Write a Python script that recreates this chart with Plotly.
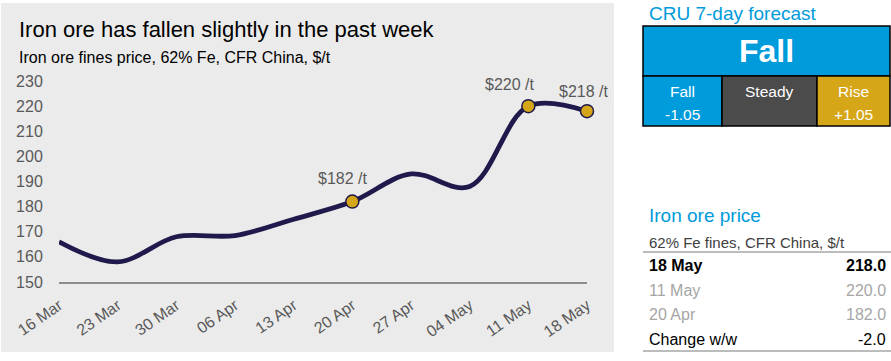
import plotly.graph_objects as go

# ---- data ----
weeks = ["16 Mar", "23 Mar", "30 Mar", "06 Apr", "13 Apr", "20 Apr", "27 Apr", "04 May", "11 May", "18 May"]
price = [166, 158, 168, 168.5, 175, 182, 193, 188, 220, 218]
marked_weeks = ["20 Apr", "11 May", "18 May"]
marked_price = [182, 220, 218]
marked_labels = ["$182 /t", "$220 /t", "$218 /t"]
y_ticks = [150, 160, 170, 180, 190, 200, 210, 220, 230]

forecast_title = "CRU 7-day forecast"
forecast_call = "Fall"
forecast_cells = [("Fall", "-1.05"), ("Steady", ""), ("Rise", "+1.05")]

table_title = "Iron ore price"
table_sub = "62% Fe fines, CFR China, $/t"
table_rows = [("18 May", "218.0"), ("11 May", "220.0"), ("20 Apr", "182.0"), ("Change w/w", "-2.0")]

W, H = 891, 361
FONT = "Liberation Sans, Arial, sans-serif"
NAVY = "#1f1a4b"
GOLD = "#d6a619"
BLUE = "#009bdb"
DGREY = "#4b4b4b"
TXT = "#595959"


def px(x):
    return x / W


def py(y):
    return 1 - y / H


fig = go.Figure()
fig.add_trace(go.Scatter(
    x=weeks, y=price, mode="lines",
    line=dict(color=NAVY, width=4.8, shape="spline", smoothing=1.0),
    hoverinfo="skip", cliponaxis=False,
))
fig.add_trace(go.Scatter(
    x=marked_weeks, y=marked_price, mode="markers",
    marker=dict(color=GOLD, size=13, line=dict(color=NAVY, width=1.5)),
    cliponaxis=False,
))

shifts = [(-10, 23), (-19, 22), (-4, 20)]
for xv, yv, lab, (dx, dy) in zip(marked_weeks, marked_price, marked_labels, shifts):
    fig.add_annotation(x=xv, y=yv, text=lab, showarrow=False, xshift=dx, yshift=dy,
                       font=dict(family=FONT, size=16, color=TXT), xref="x", yref="y")

shapes = []
# grey chart panel
shapes.append(dict(type="rect", xref="paper", yref="paper", x0=px(1), x1=px(614), y0=py(352), y1=py(3),
                   fillcolor="#ebebeb", line=dict(width=0), layer="below"))

annotations = []
annotations.append(dict(x=px(17), y=py(29), xanchor="left", yanchor="middle", showarrow=False,
                        text="Iron ore has fallen slightly in the past week",
                        font=dict(family=FONT, size=22, color="#000000")))
annotations.append(dict(x=px(17), y=py(57), xanchor="left", yanchor="middle", showarrow=False,
                        text="Iron ore fines price, 62% Fe, CFR China, $/t",
                        font=dict(family=FONT, size=16, color="#000000")))

# forecast box
annotations.append(dict(x=px(647), y=py(14), xanchor="left", yanchor="middle", showarrow=False,
                        text=forecast_title, font=dict(family=FONT, size=19, color=BLUE)))
shapes.append(dict(type="rect", xref="paper", yref="paper", x0=px(643), x1=px(890), y0=py(76), y1=py(26),
                   fillcolor=BLUE, line=dict(color="#000000", width=1.5)))
annotations.append(dict(x=px(766.5), y=py(51), xanchor="center", yanchor="middle", showarrow=False,
                        text="<b>%s</b>" % forecast_call, font=dict(family=FONT, size=32, color="white")))
cells = [(643, 722, BLUE), (722, 817, DGREY), (817, 890, GOLD)]
for (x0, x1, col), (lab, val) in zip(cells, forecast_cells):
    shapes.append(dict(type="rect", xref="paper", yref="paper", x0=px(x0), x1=px(x1), y0=py(126), y1=py(76),
                       fillcolor=col, line=dict(color="#000000", width=1.5)))
    annotations.append(dict(x=px((x0 + x1) / 2), y=py(91), xanchor="center", yanchor="middle", showarrow=False,
                            text=lab, font=dict(family=FONT, size=15.5, color="white")))
    if val:
        annotations.append(dict(x=px((x0 + x1) / 2), y=py(114), xanchor="center", yanchor="middle",
                                showarrow=False, text=val, font=dict(family=FONT, size=15.5, color="white")))

# price table
annotations.append(dict(x=px(647), y=py(215), xanchor="left", yanchor="middle", showarrow=False,
                        text=table_title, font=dict(family=FONT, size=19, color=BLUE)))
annotations.append(dict(x=px(647), y=py(242), xanchor="left", yanchor="middle", showarrow=False,
                        text=table_sub, font=dict(family=FONT, size=15, color="#404040")))
for yl in (252, 351):
    shapes.append(dict(type="line", xref="paper", yref="paper", x0=px(643), x1=px(891), y0=py(yl), y1=py(yl),
                       line=dict(color="#a6a6a6", width=1.5)))
row_y = [265, 290, 314, 339]
row_styles = [("#000000", True), ("#a6a6a6", False), ("#a6a6a6", False), ("#000000", False)]
for (lab, val), ry, (col, bold) in zip(table_rows, row_y, row_styles):
    fmt = "<b>%s</b>" if bold else "%s"
    annotations.append(dict(x=px(647), y=py(ry), xanchor="left", yanchor="middle", showarrow=False,
                            text=fmt % lab, font=dict(family=FONT, size=16, color=col)))
    annotations.append(dict(x=px(888), y=py(ry), xanchor="right", yanchor="middle", showarrow=False,
                            text=fmt % val, font=dict(family=FONT, size=16, color=col)))

for a in annotations:
    a.setdefault("xref", "paper")
    a.setdefault("yref", "paper")
    fig.add_annotation(**a)

fig.update_layout(
    width=W, height=H,
    margin=dict(l=0, r=0, t=0, b=0, pad=0, autoexpand=False),
    paper_bgcolor="white", plot_bgcolor="rgba(0,0,0,0)",
    showlegend=False,
    shapes=shapes,
    xaxis=dict(domain=[px(59), px(587)], type="category", range=[0, 9], automargin=False,
               showgrid=False, zeroline=False, showline=True, linecolor="#8c8c8c", linewidth=2,
               ticks="outside", ticklen=6, tickcolor="rgba(0,0,0,0)", tickangle=-35,
               tickfont=dict(family=FONT, size=16, color=TXT)),
    yaxis=dict(domain=[py(282), py(81)], range=[150, 230], tickvals=y_ticks, automargin=False,
               showgrid=False, zeroline=False, showline=False,
               ticks="outside", ticklen=12, tickcolor="rgba(0,0,0,0)",
               tickfont=dict(family=FONT, size=16, color=TXT)),
)

fig.write_html("out.html", config={"displayModeBar": False},
               post_script="document.body.style.margin='0';document.body.style.overflow='hidden';")
